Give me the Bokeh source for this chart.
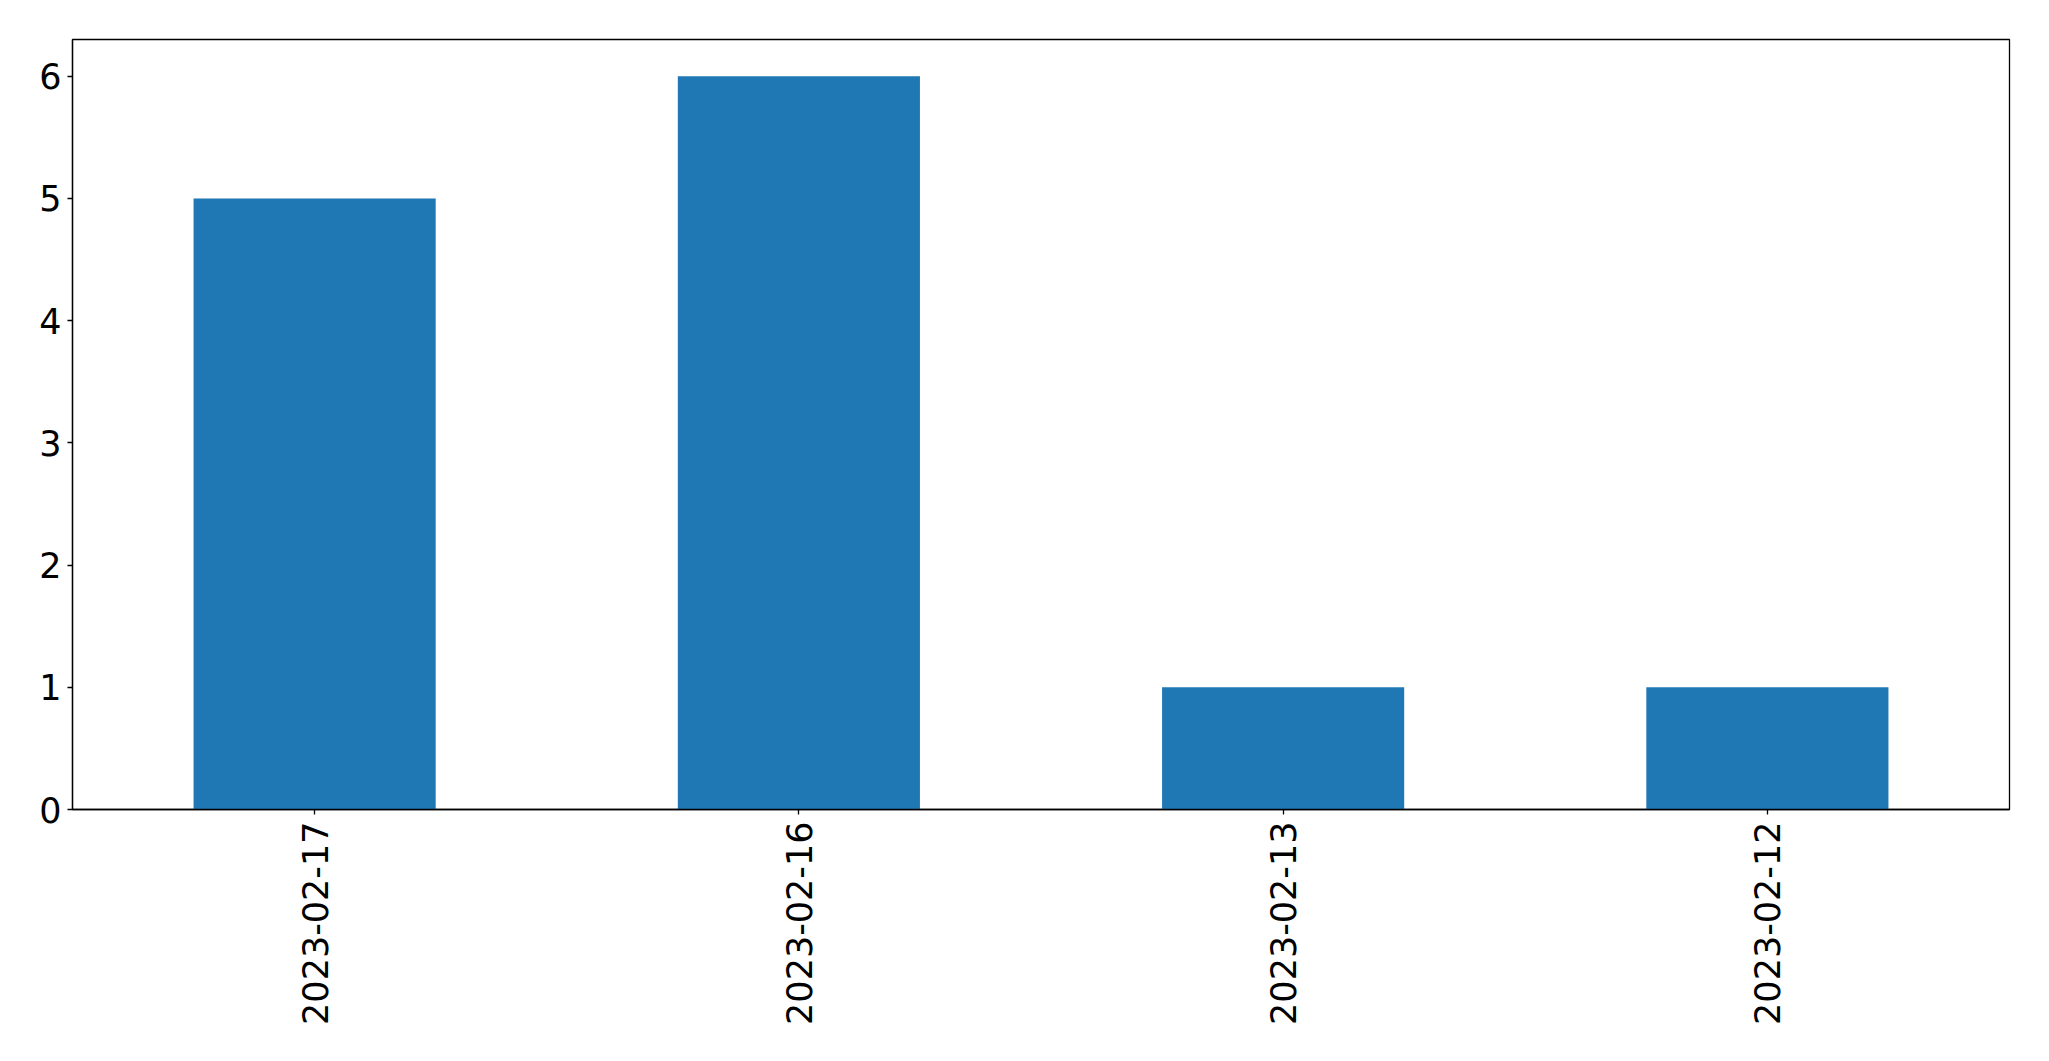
import math
from bokeh.plotting import figure
from bokeh.models import Range1d, FixedTicker
from bokeh.embed import file_html
from bokeh.resources import INLINE

dates = ["2023-02-17", "2023-02-16", "2023-02-13", "2023-02-12"]
counts = [5, 6, 1, 1]
y_ticks = [0, 1, 2, 3, 4, 5, 6]

p = figure(x_range=dates, y_range=Range1d(0, 6.3), width=2040, height=1045,
           output_backend="svg", toolbar_location=None,
           min_border_left=72, min_border_right=31, min_border_top=39, min_border_bottom=236)

p.vbar(x=dates, top=counts, width=0.5, color="#1f77b4", line_color=None)

p.xgrid.visible = False
p.ygrid.visible = False
p.outline_line_color = "black"
p.outline_line_width = 1.3
p.outline_line_alpha = 1

for ax in (p.xaxis[0], p.yaxis[0]):
    ax.axis_line_color = "black"
    ax.axis_line_width = 1.3
    ax.major_tick_line_color = "black"
    ax.major_tick_line_width = 1.3
    ax.major_tick_out = 5
    ax.major_tick_in = 0
    ax.minor_tick_line_color = None
    ax.major_label_text_font = "DejaVu Sans"
    ax.major_label_text_font_size = "35px"
    ax.major_label_text_color = "black"

p.yaxis.ticker = FixedTicker(ticks=y_ticks)
p.yaxis.major_label_standoff = 6
p.xaxis.major_label_orientation = math.pi / 2
p.xaxis.major_label_standoff = 7
p.x_range.range_padding = 0

open("out.html", "w").write(file_html(p, INLINE))
